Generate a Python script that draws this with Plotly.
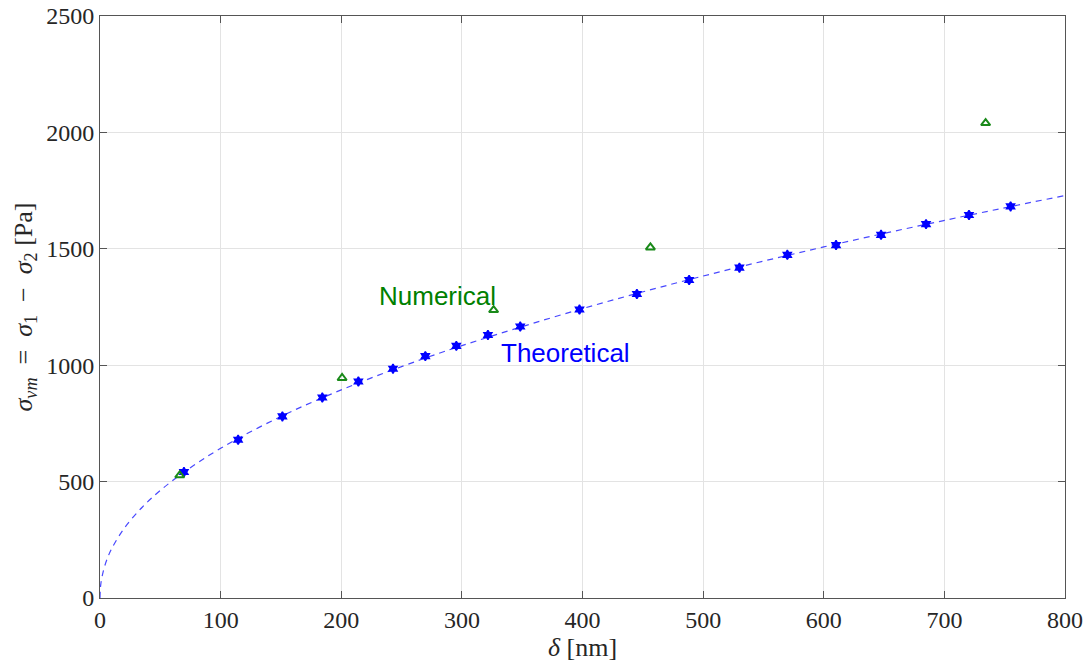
import plotly.graph_objects as go

# Theoretical markers
theo_x = [69.6, 114.5, 151.2, 184.3, 214.2, 242.9, 269.7, 295.4, 321.6, 348.4,
          397.5, 445.1, 488.4, 530.1, 569.8, 610.2, 647.5, 684.8, 720.4, 754.9]
theo_y = [541, 680, 780, 861, 930, 985, 1039, 1083, 1130, 1166,
          1239, 1306, 1366, 1419, 1474, 1516, 1560, 1606, 1645, 1682]

# Numerical markers
num_x = [66.1, 200.7, 326.3, 456.3, 734.2]
num_y = [527, 945, 1237, 1506, 2040]

# Theoretical curve
curve_x = [0, 0.2, 0.5, 1, 3, 6, 10, 20, 35, 50, 70, 100, 150, 200, 250, 300,
           400, 500, 600, 700, 800]
curve_y = [0, 33, 52, 72, 121, 169, 215, 299, 390, 462, 542, 643, 780, 894, 994, 1084,
           1243, 1383, 1508, 1622, 1729]

x_ticks = [0, 100, 200, 300, 400, 500, 600, 700, 800]
y_ticks = [0, 500, 1000, 1500, 2000, 2500]

fig = go.Figure()
fig.add_trace(go.Scatter(x=curve_x, y=curve_y, mode="lines",
                         line=dict(color="rgba(40,40,255,0.85)", width=1.2, dash="6px,5px", shape="spline"),
                         showlegend=False, hoverinfo="skip"))
fig.add_trace(go.Scatter(x=theo_x, y=theo_y, mode="markers",
                         marker=dict(symbol="hexagram", size=7, color="#0000ff",
                                     line=dict(color="#0000ff", width=1.5)),
                         showlegend=False))
fig.add_trace(go.Scatter(x=num_x, y=num_y, mode="markers",
                         marker=dict(symbol="triangle-up-open", size=8, color="#1a8a1a",
                                     line=dict(color="#1a8a1a", width=2)),
                         showlegend=False))

fig.add_annotation(x=279.6, y=1299, text="Numerical", showarrow=False,
                   font=dict(family="Liberation Sans, Arial", size=26, color="#008000"))
fig.add_annotation(x=385.7, y=1054, text="Theoretical", showarrow=False,
                   font=dict(family="Liberation Sans, Arial", size=26, color="#0000ff"))

axis_common = dict(showline=True, linecolor="#555555", linewidth=1, mirror="ticks",
                   ticks="inside", ticklen=7, tickcolor="#555555", automargin=False,
                   showgrid=True, gridcolor="#e3e3e3", gridwidth=1, zeroline=False,
                   tickfont=dict(family="Liberation Serif, Times New Roman", size=24, color="#262626"))

fig.update_xaxes(range=[0, 800], tickvals=x_ticks, ticktext=[str(v) for v in x_ticks],
                 title=dict(text="<i>δ</i> [nm]", standoff=2,
                            font=dict(family="Liberation Serif, Times New Roman", size=26, color="#262626")),
                 **axis_common)
fig.update_yaxes(range=[0, 2500], tickvals=y_ticks, ticktext=[str(v) for v in y_ticks],
                 title=dict(text="<i>σ<sub>vm</sub></i>  =  <i>σ</i><sub>1</sub>  −  <i>σ</i><sub>2</sub> [Pa]",
                            standoff=6,
                            font=dict(family="Liberation Serif, Times New Roman", size=26, color="#262626")),
                 **axis_common)

fig.update_layout(width=1088, height=665, margin=dict(l=100, r=23, t=16, b=67),
                  plot_bgcolor="white", paper_bgcolor="white")

fig.write_html("out.html")
